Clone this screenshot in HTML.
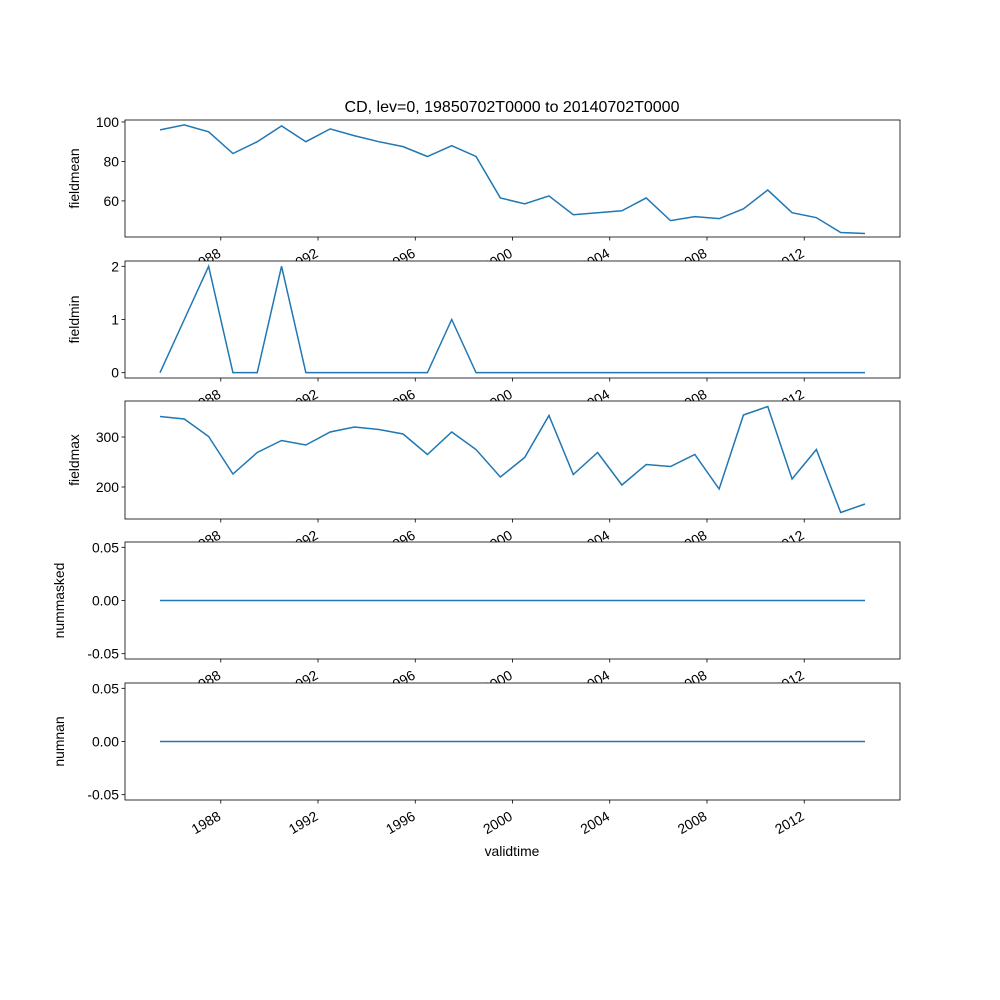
<!DOCTYPE html>
<html><head><meta charset="utf-8"><style>body{margin:0;background:#fff}svg{display:block;font-family:"Liberation Sans","DejaVu Sans",sans-serif}</style></head>
<body>
<svg id="chart" width="1000" height="1000" viewBox="0 0 1000 1000"></svg>
<script>
const years=[1985,1986,1987,1988,1989,1990,1991,1992,1993,1994,1995,1996,1997,1998,1999,2000,2001,2002,2003,2004,2005,2006,2007,2008,2009,2010,2011,2012,2013,2014];
const fieldmean=[96,98.5,95,84,90,98,90,96.5,93,90,87.5,82.5,88,82.5,61.5,58.5,62.5,53,54,55,61.5,50,52,51,56,65.5,54,51.5,44,43.5];
const fieldmin=[0,1,2,0,0,2,0,0,0,0,0,0,1,0,0,0,0,0,0,0,0,0,0,0,0,0,0,0,0,0];
const fieldmax=[341,336,301,226,269,293,284,310,320,315,306,265,310,275,220,259,343,225,269,204,245,241,265,196,344,361,216,275,149,166];
const nummasked=years.map(()=>0);
const numnan=years.map(()=>0);
const xTicks=[1988,1992,1996,2000,2004,2008,2012];
const panels=[
 {name:'fieldmean',vals:fieldmean,top:120,bot:237,ymin:41.7,ymax:101,ticks:[60,80,100],fmt:v=>String(v)},
 {name:'fieldmin',vals:fieldmin,top:261,bot:378,ymin:-0.1,ymax:2.1,ticks:[0,1,2],fmt:v=>String(v)},
 {name:'fieldmax',vals:fieldmax,top:401,bot:519,ymin:136,ymax:372,ticks:[200,300],fmt:v=>String(v)},
 {name:'nummasked',vals:nummasked,top:542,bot:659,ymin:-0.055,ymax:0.055,ticks:[-0.05,0,0.05],fmt:v=>v.toFixed(2)},
 {name:'numnan',vals:numnan,top:683,bot:800,ymin:-0.055,ymax:0.055,ticks:[-0.05,0,0.05],fmt:v=>v.toFixed(2)}
];
const L=125,R=900;
const svg=document.getElementById('chart');
const NS='http://www.w3.org/2000/svg';
function mk(tag,attrs,parent){const e=document.createElementNS(NS,tag);for(const k in attrs)e.setAttribute(k,attrs[k]);(parent||svg).appendChild(e);return e;}
function xs(t){return 160+(t-1985.5)*(705/29);}
const title=mk('text',{x:512,y:112,'text-anchor':'middle','font-size':16});
title.textContent='CD, lev=0, 19850702T0000 to 20140702T0000';


panels.forEach((p)=>{
 const g=mk('g',{});
 
 
 mk('rect',{x:L,y:p.top,width:R-L,height:p.bot-p.top,fill:'#fff'},g);
 const ys=v=>p.bot-(v-p.ymin)/(p.ymax-p.ymin)*(p.bot-p.top);
 const d=p.vals.map((v,i)=>(i?'L':'M')+xs(years[i]+0.5).toFixed(2)+','+ys(v).toFixed(2)).join('');
 const line=mk('path',{d:d,fill:'none',stroke:'#1f77b4','stroke-width':1.5},g);
 
 
 mk('rect',{x:L,y:p.top,width:R-L,height:p.bot-p.top,fill:'none',stroke:'#000','stroke-width':0.8},g);
 p.ticks.forEach(t=>{
  const y=ys(t);
  mk('line',{x1:L-3.5,x2:L,y1:y,y2:y,stroke:'#000','stroke-width':0.8},g);
  const tx=mk('text',{x:L-6,y:y+5,'text-anchor':'end','font-size':13.9},g);
  tx.textContent=p.fmt(t);
  
  
 });
 const yl=mk('text',{x:0,y:0,'text-anchor':'middle','font-size':13.9,transform:`translate(${p.name.startsWith('num')?64:79},${(p.top+p.bot)/2}) rotate(-90)`},g);
 yl.textContent=p.name;
 
 
 xTicks.forEach(t=>{
  const x=xs(t);
  mk('line',{x1:x,x2:x,y1:p.bot,y2:p.bot+3.5,stroke:'#000','stroke-width':0.8},g);
  const tx=mk('text',{x:0,y:0,'text-anchor':'end','font-size':13.9,transform:`translate(${x+1},${p.bot+19}) rotate(-30)`},g);
  tx.textContent=String(t);
  
  
 });
});
const xl=mk('text',{x:512,y:856,'text-anchor':'middle','font-size':13.9});
xl.textContent='validtime';


</script>
</body></html>
